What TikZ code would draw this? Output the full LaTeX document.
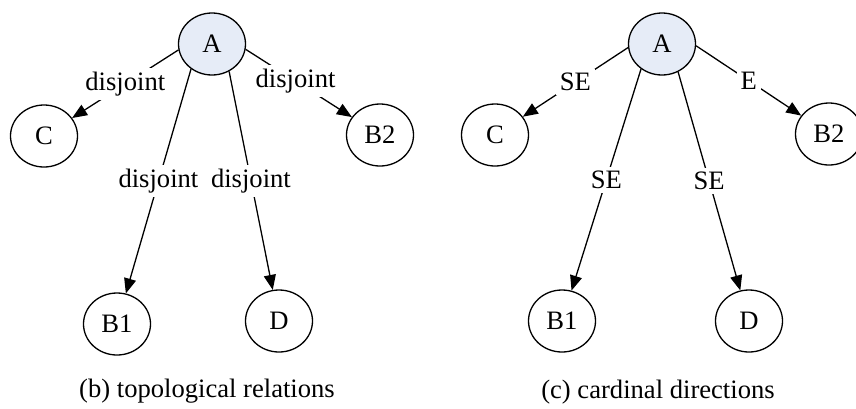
\documentclass[tikz,border=0pt]{standalone}
\usepackage{fontspec}
\setmainfont{Liberation Serif}
\newfontfamily\figfont{Liberation Serif}
\usetikzlibrary{arrows.meta,shapes.geometric,positioning}
\definecolor{rootblue}{RGB}{230,236,247}

\begin{document}
\begin{tikzpicture}[x=0.5pt, y=-0.5pt, line width=0.65pt,
    every node/.style={font=\figfont\fontsize{13.3}{16}\selectfont},
    obj/.style={ellipse, draw, minimum width=33.5pt, minimum height=31pt, inner sep=0pt},
    link/.style={-{Triangle[length=7.5pt,width=6pt]}},
    rel/.style={fill=white, inner sep=2pt}]
  \useasboundingbox (0,0) rectangle (856,408);

  % topological relations
  \node[obj, fill=rootblue] (ta) at (212,44) {A};
  \node[obj] (tc) at (44,136) {C};
  \node[obj] (tb2) at (380,135) {B2};
  \node[obj] (tb1) at (117,324) {B1};
  \node[obj] (td) at (279,321) {D};
  \node (tcap) at (207,391) {(b) topological relations};

  \path[link] (ta.190) edge node[rel] {disjoint} (tc);
  \path[link] (ta.351) edge node[rel, pos=0.47] {disjoint} (tb2);
  \path[link] (ta.230) edge node[rel] {disjoint} (tb1);
  \path[link] (ta.302) edge node[rel] {disjoint} (td);

  % cardinal directions
  \node[obj, fill=rootblue] (ca) at (662,44) {A};
  \node[obj] (cc) at (495,135) {C};
  \node[obj] (cb2) at (829,134) {B2};
  \node[obj] (cb1) at (562,321) {B1};
  \node[obj] (cd) at (749,321) {D};
  \node (ccap) at (658,392) {(c) cardinal directions};

  \path[link] (ca.186) edge node[rel] {SE} (cc);
  \path[link] (ca.357) edge node[rel] {E} (cb2);
  \path[link] (ca.230) edge node[rel] {SE} (cb1);
  \path[link] (ca.300) edge node[rel] {SE} (cd);

\end{tikzpicture}
\end{document}
